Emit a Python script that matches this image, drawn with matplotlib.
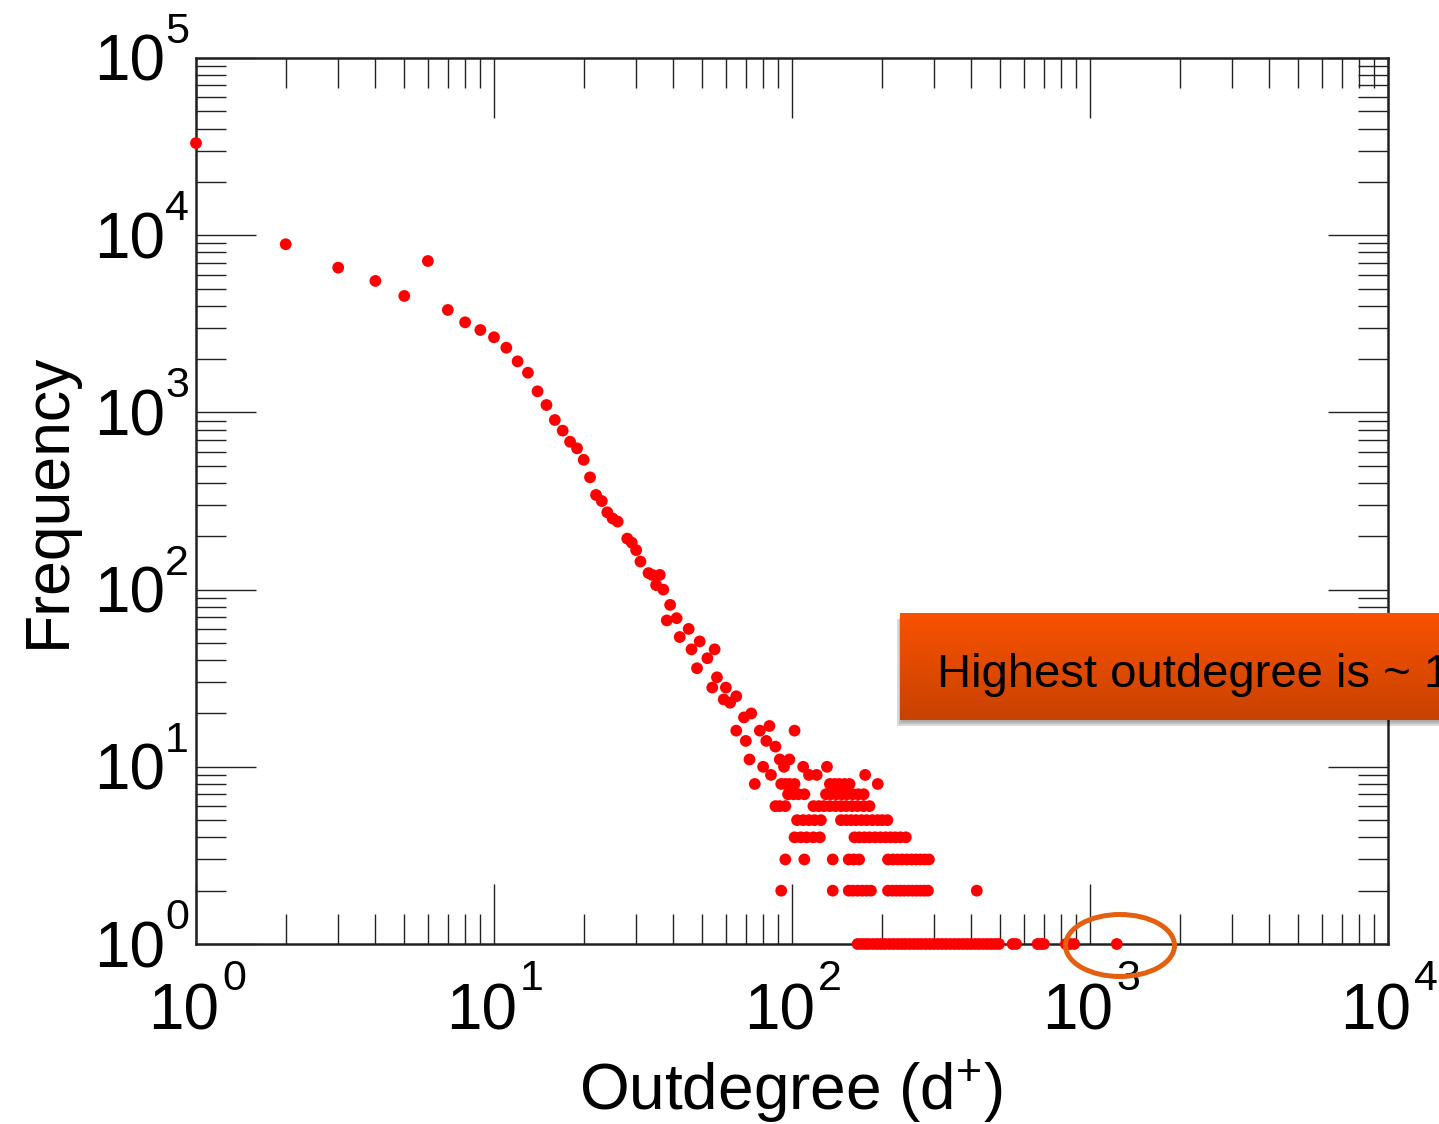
import numpy as np
import matplotlib
matplotlib.use("Agg")
import matplotlib.pyplot as plt
from matplotlib.ticker import LogLocator, NullFormatter
from matplotlib.patches import Ellipse, Rectangle
from matplotlib.transforms import ScaledTranslation, blended_transform_factory

plt.rcParams['font.family'] = ['Liberation Sans', 'DejaVu Sans']
plt.rcParams['mathtext.fontset'] = 'custom'
plt.rcParams['mathtext.rm'] = 'Liberation Sans'
plt.rcParams['mathtext.default'] = 'regular'

# ---------------- data ----------------
outdegree = [
    1, 2, 3, 4, 5, 6, 7, 8, 9, 10, 11, 12, 13, 14, 15, 16, 17, 18, 19, 20,
    21, 22, 23, 24, 25, 26, 28, 29, 30, 31, 33, 34, 35, 36, 37, 38, 39, 41,
    42, 45, 46, 48, 49, 52, 54, 55, 56, 59, 60, 62, 65, 69, 73,
    # frequencies 9..17
    84, 65, 78, 102, 70, 82, 88, 72, 91, 98, 80, 94, 109, 131, 85, 114, 121, 176,
    # frequency 8
    75, 92, 95, 98, 102, 134, 139, 144, 150, 156, 194,
    # frequency 7
    97, 101, 105, 110, 130, 135, 141, 147, 153, 160, 167, 174,
    # frequency 6
    88, 91, 95, 118, 123, 128, 134, 140, 146, 152, 159, 166, 174, 182,
    # frequency 5
    104, 109, 114, 119, 125, 146, 152, 158, 164, 171, 178, 186, 194, 201, 209,
    # frequency 4
    102, 107, 112, 118, 124, 162, 168, 175, 182, 190, 198, 206, 214, 222, 231, 241,
    # frequency 3
    95, 110, 137, 155, 161, 168, 210, 218, 226, 234, 243, 252, 261, 270, 279, 288,
    # frequency 2
    92, 137, 155, 160, 166, 172, 178, 184, 210, 217, 224, 231, 238, 246, 254,
    262, 270, 278, 286, 417,
    # frequency 1
    166, 171, 176, 181, 187, 193, 199, 205, 212, 219, 226, 233, 240, 248, 256,
    264, 272, 281, 290, 299, 309, 319, 329, 340, 351, 362, 374, 386, 398, 411,
    424, 438, 452, 466, 481, 495, 550, 565, 667, 684, 700, 830, 857, 885, 1230,
]
frequency = [
    33100, 8890, 6560, 5520, 4540, 7150, 3785, 3224, 2917, 2655, 2318, 1941,
    1675, 1315, 1101, 906, 789, 683, 627, 540, 430, 342, 316, 273, 252, 242,
    194, 184, 167, 144, 124, 121, 106, 121, 100, 67, 82, 69, 54, 60, 46, 36,
    51, 41, 28, 46, 32, 24, 28, 23, 25, 19, 20,
    17, 16, 16, 16, 14, 14, 13, 11, 11, 11, 10, 10, 10, 10, 9, 9, 9, 9,
    8, 8, 8, 8, 8, 8, 8, 8, 8, 8, 8,
    7, 7, 7, 7, 7, 7, 7, 7, 7, 7, 7, 7,
    6, 6, 6, 6, 6, 6, 6, 6, 6, 6, 6, 6, 6, 6,
    5, 5, 5, 5, 5, 5, 5, 5, 5, 5, 5, 5, 5, 5, 5,
    4, 4, 4, 4, 4, 4, 4, 4, 4, 4, 4, 4, 4, 4, 4, 4,
    3, 3, 3, 3, 3, 3, 3, 3, 3, 3, 3, 3, 3, 3, 3, 3,
    2, 2, 2, 2, 2, 2, 2, 2, 2, 2, 2, 2, 2, 2, 2, 2, 2, 2, 2, 2,
    1, 1, 1, 1, 1, 1, 1, 1, 1, 1, 1, 1, 1, 1, 1, 1, 1, 1, 1, 1, 1, 1, 1, 1,
    1, 1, 1, 1, 1, 1, 1, 1, 1, 1, 1, 1, 1, 1, 1, 1, 1, 1, 1, 1, 1,
]

tick_base = "10"
x_tick_exponents = ["0", "1", "2", "3", "4"]
y_tick_exponents = ["0", "1", "2", "3", "4", "5"]
x_label = "Outdegree (d$^{+}$)"
y_label = "Frequency"
callout_text = "Highest outdegree is ~ 1000"

# ---------------- figure ----------------
W, H, DPI = 1439, 1124, 100
fig = plt.figure(figsize=(W / DPI, H / DPI), dpi=DPI)
fig.patch.set_facecolor('white')

L, R, T, B = 196, 1388, 58, 944
ax = fig.add_axes([L / W, 1 - B / H, (R - L) / W, (B - T) / H])
ax.set_xscale('log')
ax.set_yscale('log')
ax.set_xlim(1, 1e4)
ax.set_ylim(1, 1e5)

ax.scatter(outdegree, frequency, s=72, color='#ff0000', edgecolors='none',
           clip_on=False, zorder=5)

for axis in (ax.xaxis, ax.yaxis):
    axis.set_major_locator(LogLocator(base=10, numticks=20))
    axis.set_minor_locator(LogLocator(base=10, subs=np.arange(2, 10), numticks=100))
    axis.set_minor_formatter(NullFormatter())
ax.tick_params(which='both', direction='in', top=True, right=True,
               labelbottom=False, labelleft=False, color='#222222')
ax.tick_params(which='major', length=43, width=1.0)
ax.tick_params(which='minor', length=21.6, width=1.0)
for sp in ax.spines.values():
    sp.set_linewidth(1.8)
    sp.set_color('#222222')


def shifted(base, dx, dy):
    return base + ScaledTranslation(dx / DPI, dy / DPI, fig.dpi_scale_trans)


base_fs, sup_fs = 46, 31
xb = blended_transform_factory(ax.transData, ax.transAxes)
yb = blended_transform_factory(ax.transAxes, ax.transData)
for e in x_tick_exponents:
    v = 10.0 ** int(e)
    ax.text(v, 0, tick_base, transform=shifted(xb, 23, -86), ha='right',
            va='baseline', fontsize=base_fs, clip_on=False)
    ax.text(v, 0, e, transform=shifted(xb, 26, -46), ha='left',
            va='baseline', fontsize=sup_fs, clip_on=False)
for e in y_tick_exponents:
    v = 10.0 ** int(e)
    ax.text(0, v, tick_base, transform=shifted(yb, -31, -23), ha='right',
            va='baseline', fontsize=base_fs, clip_on=False)
    ax.text(0, v, e, transform=shifted(yb, -31, 15), ha='left',
            va='baseline', fontsize=sup_fs, clip_on=False)

fig.text(791 / W, 1 - 1110 / H, x_label, ha='center', va='baseline', fontsize=46)
fig.text(48 / W, 1 - 500 / H, y_label, ha='center', va='center', rotation=90,
         fontsize=45)

# ---------------- call-out box ----------------
bx0, by0, bx1, by1 = 900, 613, W + 20, 720
for k, a in enumerate([0.10, 0.12, 0.15]):
    off = 2 + 2 * k
    fig.patches.append(Rectangle(((bx0 - off + 3) / W, 1 - (by1 + off) / H),
                                 (bx1 - bx0) / W, (by1 - by0) / H,
                                 transform=fig.transFigure, facecolor='#000000',
                                 alpha=a, edgecolor='none', zorder=1.5))
box_ax = fig.add_axes([bx0 / W, 1 - by1 / H, (bx1 - bx0) / W, (by1 - by0) / H])
box_ax.set_zorder(2)
top_c = np.array([249, 82, 0]) / 255.0
bot_c = np.array([200, 66, 0]) / 255.0
t = np.linspace(0, 1, 100)[:, None]
grad = top_c[None, :] * (1 - t) + bot_c[None, :] * t
box_ax.imshow(grad[:, None, :], aspect='auto', extent=[0, 1, 0, 1])
box_ax.set_axis_off()
fig.text(937 / W, 1 - 687 / H, callout_text, ha='left', va='baseline',
         fontsize=34, color='black', zorder=3)

# ---------------- highlight ellipse ----------------
fig.patches.append(Ellipse((1120 / W, 1 - 945.5 / H), 109 / W, 62 / H,
                           transform=fig.transFigure, fill=False,
                           edgecolor='#e2600f', linewidth=3.6, zorder=4))

fig.savefig('out.png', dpi=DPI)
